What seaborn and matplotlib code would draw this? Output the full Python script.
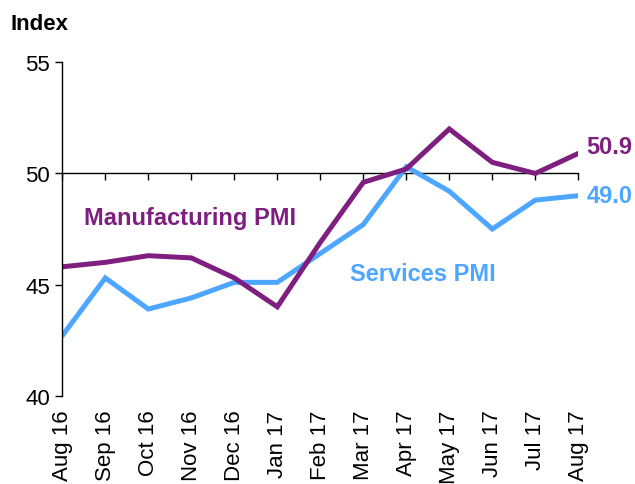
import matplotlib
matplotlib.use("Agg")
import matplotlib.pyplot as plt
import seaborn as sns
import pandas as pd

months = ["Aug 16", "Sep 16", "Oct 16", "Nov 16", "Dec 16", "Jan 17", "Feb 17",
          "Mar 17", "Apr 17", "May 17", "Jun 17", "Jul 17", "Aug 17"]
manufacturing = [45.8, 46.0, 46.3, 46.2, 45.3, 44.0, 46.9, 49.6, 50.2, 52.0, 50.5, 50.0, 50.9]
services = [42.7, 45.3, 43.9, 44.4, 45.1, 45.1, 46.4, 47.7, 50.3, 49.2, 47.5, 48.8, 49.0]
series_names = ["Manufacturing PMI", "Services PMI"]
y_ticks = [40, 45, 50, 55]

PURPLE = "#7E1F80"
BLUE = "#4DA6FF"

sns.set_style("white")
plt.rcParams["font.family"] = ["Liberation Sans", "DejaVu Sans"]
plt.rcParams["text.color"] = "black"
plt.rcParams["xtick.color"] = "black"
plt.rcParams["ytick.color"] = "black"
plt.rcParams["axes.labelcolor"] = "black"

df = pd.DataFrame({
    "idx": list(range(len(months))) * 2,
    "value": manufacturing + services,
    "series": [series_names[0]] * len(months) + [series_names[1]] * len(months),
})

fig = plt.figure(figsize=(6.35, 4.85), dpi=100)
ax = fig.add_axes([0.0981, 0.182, 0.9107 - 0.0981, 0.8695 - 0.182])

sns.lineplot(data=df, x="idx", y="value", hue="series",
             palette={series_names[0]: PURPLE, series_names[1]: BLUE},
             hue_order=[series_names[1], series_names[0]],
             linewidth=3.6, legend=False, ax=ax, solid_joinstyle="miter")

ax.set_xlim(0, len(months) - 1)
ax.set_ylim(40, 55)
ax.set_xlabel("")
ax.set_ylabel("")

for s in ["top", "right"]:
    ax.spines[s].set_visible(False)
ax.spines["left"].set_color("black")
ax.spines["left"].set_linewidth(1.0)
ax.spines["bottom"].set_position(("data", 50))
ax.spines["bottom"].set_color("black")
ax.spines["bottom"].set_linewidth(1.0)
ax.spines["bottom"].set_zorder(1)

ax.set_yticks(y_ticks)
ax.tick_params(axis="y", direction="out", length=5, width=1.0, color="black",
               labelcolor="black", labelsize=16, pad=4, left=True)
ax.set_xticks(range(len(months)))
ax.tick_params(axis="x", direction="out", length=5, width=1.0, color="black",
               labelbottom=False, bottom=True)

sec = ax.secondary_xaxis("bottom")
sec.set_xticks(range(len(months)), labels=months, rotation=90)
sec.tick_params(axis="x", length=0, labelsize=16, pad=10, labelcolor="black")
sec.spines["bottom"].set_visible(False)

ax.text(2.97, 48.04, series_names[0], color=PURPLE, fontsize=17,
        fontweight="bold", ha="center", va="center")
ax.text(8.38, 45.48, series_names[1], color=BLUE, fontsize=17,
        fontweight="bold", ha="center", va="center")

ax.annotate(f"{manufacturing[-1]:.1f}", xy=(len(months) - 1, manufacturing[-1]),
            xytext=(6, 5), textcoords="offset points", color=PURPLE,
            fontsize=17, fontweight="bold", ha="left", va="center",
            annotation_clip=False)
ax.annotate(f"{services[-1]:.1f}", xy=(len(months) - 1, services[-1]),
            xytext=(6, 0), textcoords="offset points", color=BLUE,
            fontsize=17, fontweight="bold", ha="left", va="center",
            annotation_clip=False)

fig.text(10 / 635, 1 - 24 / 485, "Index", fontsize=16, fontweight="bold",
         color="black", ha="left", va="center")

fig.savefig("out.png", dpi=100)
